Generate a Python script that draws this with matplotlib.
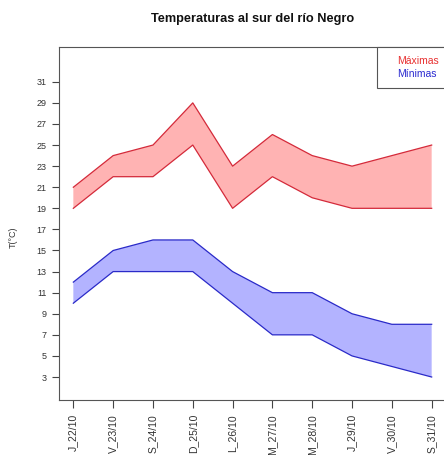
import matplotlib
matplotlib.use("Agg")
import matplotlib.pyplot as plt
from matplotlib.patches import Rectangle

days = ["J_22/10", "V_23/10", "S_24/10", "D_25/10", "L_26/10",
        "M_27/10", "M_28/10", "J_29/10", "V_30/10", "S_31/10"]
max_hi = [21, 24, 25, 29, 23, 26, 24, 23, 24, 25]
max_lo = [19, 22, 22, 25, 19, 22, 20, 19, 19, 19]
min_hi = [12, 15, 16, 16, 13, 11, 11, 9, 8, 8]
min_lo = [10, 13, 13, 13, 10, 7, 7, 5, 4, 3]
yticks = list(range(3, 32, 2))

plt.rcParams['font.family'] = ['Liberation Sans', 'DejaVu Sans']

W, H = 444, 455
fig = plt.figure(figsize=(W/100, H/100), dpi=100)
ax = fig.add_axes([59/W, 1-400/H, (446-59)/W, (400-47)/H])

x = list(range(1, len(days)+1))
ax.fill_between(x, max_lo, max_hi, facecolor='#FFB3B3', edgecolor='none')
ax.plot(x, max_hi, color='#D42A3A', lw=0.9)
ax.plot(x, max_lo, color='#D42A3A', lw=0.9)
ax.fill_between(x, min_lo, min_hi, facecolor='#B3B3FF', edgecolor='none')
ax.plot(x, min_hi, color='#2A2AC8', lw=0.9)
ax.plot(x, min_lo, color='#2A2AC8', lw=0.9)

ax.set_xlim(0.64, 10.36)
ax.set_ylim(0.82, 34.3)
ax.set_xticks(x)
ax.set_xticklabels(days, rotation=90, va='top', ha='center')
ax.set_yticks(yticks)
ax.tick_params(axis='both', labelsize=6.5, length=5, width=0.8, color='#444444',
               labelcolor='#333333', pad=4)
ax.tick_params(axis='x', labelsize=7.5, length=6)
for s in ax.spines.values():
    s.set_color('#555555')
    s.set_linewidth(0.8)

# legend box
lx0 = 377
rect = Rectangle((lx0/W, 1-88/H), (446-lx0)/W, (88-47)/H, transform=fig.transFigure,
                 facecolor='white', edgecolor='#555555', lw=0.8)
fig.add_artist(rect)
fig.text(397/W, 1-61/H, "Máximas", color='#E83030', fontsize=7.5, va='center', ha='left')
fig.text(397/W, 1-74/H, "Mínimas", color='#2A2AD0', fontsize=7.5, va='center', ha='left')

fig.text(253/W, 1-19/H, "Temperaturas al sur del río Negro", fontsize=9.2,
         fontweight='bold', ha='center', va='center', color='#111111')
fig.text(13/W, 1-237/H, "T(°C)", fontsize=6.5, rotation=90, ha='center', va='center',
         color='#333333')

fig.savefig("out.png", dpi=100)
